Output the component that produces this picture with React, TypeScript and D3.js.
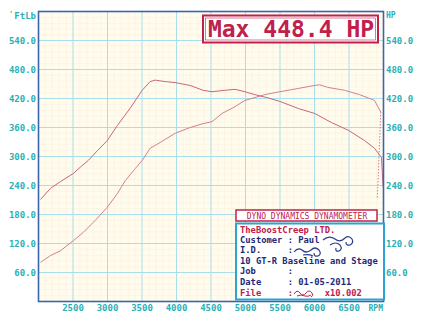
import React from "react";
import * as d3 from "d3";

const torqueRpm = [2029, 2173, 2318, 2506, 2607, 2723, 2853, 2997, 3142, 3329, 3503, 3618, 3691, 3835, 3980, 4197, 4385, 4514, 4702, 4847, 4991, 5136, 5309, 5497, 5772, 6003, 6249, 6494, 6725, 6870, 6971, 6995];
const torqueVal = [211, 234, 248, 265, 278, 292, 312, 333, 364, 400, 437, 455, 458, 455, 453, 447, 437, 434, 437, 439, 434, 428, 422, 414, 399, 389, 370, 354, 333, 317, 298, 236];

const hpRpm = [2029, 2173, 2318, 2506, 2650, 2824, 2997, 3142, 3257, 3402, 3503, 3618, 3763, 3980, 4197, 4385, 4514, 4659, 4847, 4991, 5136, 5280, 5497, 5772, 6003, 6075, 6191, 6436, 6653, 6870, 6960];
const hpVal = [81, 95, 105, 126, 143, 168, 195, 223, 250, 275, 292, 317, 329, 348, 360, 368, 372, 389, 403, 416, 422, 428, 434, 441, 447, 448.4, 443, 437, 428, 416, 392];

const rundownRpm = [6960, 6935, 6910];
const rundownVal = [392, 300, 215];

const xTicks = [2500, 3000, 3500, 4000, 4500, 5000, 5500, 6000, 6500];
const yTicks = [60, 120, 180, 240, 300, 360, 420, 480, 540];

const infoLines = [
  { text: "TheBoostCreep LTD.", color: "#c0204c" },
  { text: "Customer : Paul", color: "#1c2a78" },
  { text: "I.D.     :", color: "#1c2a78" },
  { text: "10 GT-R Baseline and Stage", color: "#1c2a78" },
  { text: "Job      :", color: "#1c2a78" },
  { text: "Date     : 01-05-2011", color: "#1c2a78" },
  { text: "File     :      x10.002", color: "#c0204c" },
];

const FONT = "'DejaVu Sans Mono', 'Liberation Mono', monospace";
const TEAL = "#2ab0b4";

export default function App() {
  const W = 425, H = 327;
  const x = d3.scaleLinear().domain([2000, 7000]).range([38.5, 383.5]);
  const y = d3.scaleLinear().domain([0, 600]).range([301.5, 11.5]);
  const line = d3.line<[number, number]>().x(d => x(d[0])).y(d => y(d[1])).curve(d3.curveLinear);

  const torque = torqueRpm.map((r, i) => [r, torqueVal[i]] as [number, number]);
  const hp = hpRpm.map((r, i) => [r, hpVal[i]] as [number, number]);
  const rundown = rundownRpm.map((r, i) => [r, rundownVal[i]] as [number, number]);

  const minorX = d3.range(2100, 7000, 100).filter(v => v % 500 !== 0);
  const minorY = d3.range(12, 600, 12).filter(v => v % 60 !== 0);
  const majorX = d3.range(2500, 7000, 500);
  const majorY = d3.range(60, 600, 60);

  return (
    <div style={{ position: "fixed", left: 0, top: 0 }}>
      <svg width={W} height={H} style={{ display: "block", background: "#ffffff" }}>
        <rect x={x(2000)} y={y(600)} width={x(7000) - x(2000)} height={y(0) - y(600)} fill="#fffcee" />
        {minorX.map(v => (
          <line key={"mx" + v} x1={x(v)} x2={x(v)} y1={y(0)} y2={y(600)} stroke="#f6e4cc" strokeWidth={0.6} strokeDasharray="1,1" />
        ))}
        {minorY.map(v => (
          <line key={"my" + v} y1={y(v)} y2={y(v)} x1={x(2000)} x2={x(7000)} stroke="#f6e4cc" strokeWidth={0.6} strokeDasharray="1,1" />
        ))}
        {majorX.map(v => (
          <line key={"Mx" + v} x1={x(v)} x2={x(v)} y1={y(0)} y2={y(600)} stroke="#a9dfea" strokeWidth={1} />
        ))}
        {majorY.map(v => (
          <line key={"My" + v} y1={y(v)} y2={y(v)} x1={x(2000)} x2={x(7000)} stroke="#a9dfea" strokeWidth={1} />
        ))}
        <path d={line(torque) || ""} fill="none" stroke="#c9657c" strokeWidth={1} />
        <path d={line(hp) || ""} fill="none" stroke="#d57f8e" strokeWidth={1} />
        <path d={line(rundown) || ""} fill="none" stroke="#d57f8e" strokeWidth={1} strokeDasharray="1.5,1.5" />

        <rect x={x(2000)} y={y(600)} width={x(7000) - x(2000)} height={y(0) - y(600)} fill="none" stroke="#3a64b0" strokeWidth={1.6} />

        {yTicks.map(v => (
          <text key={"yl" + v} x={36} y={y(v) + 3} textAnchor="end" fontFamily={FONT} fontWeight="bold" fontSize={9} fill={TEAL}>
            {v.toFixed(1)}
          </text>
        ))}
        {yTicks.map(v => (
          <text key={"yr" + v} x={386} y={y(v) + 3} textAnchor="start" fontFamily={FONT} fontWeight="bold" fontSize={9} fill={TEAL}>
            {v.toFixed(1)}
          </text>
        ))}
        <text x={36} y={19} textAnchor="end" fontFamily={FONT} fontWeight="bold" fontSize={9} fill={TEAL}>FtLb</text>
        <text x={9} y={16} fontFamily={FONT} fontSize={7} fill="#444">'</text>
        <text x={386} y={18} fontFamily={FONT} fontWeight="bold" fontSize={8} fill={TEAL}>HP</text>
        {xTicks.map(v => (
          <text key={"xl" + v} x={x(v)} y={311} textAnchor="middle" fontFamily={FONT} fontWeight="bold" fontSize={9} fill={TEAL}>
            {v}
          </text>
        ))}
        <text x={383} y={311} textAnchor="end" fontFamily={FONT} fontWeight="bold" fontSize={8} fill={TEAL}>RPM</text>

        {/* Max box */}
        <rect x={203} y={15.5} width={175} height={27} fill="#ffffff" stroke="#c0204c" strokeWidth={2} />
        <rect x={205.5} y={18} width={170} height={22} fill="none" stroke="#c0204c" strokeWidth={0.6} />
        <text x={291} y={37} textAnchor="middle" fontFamily={FONT} fontWeight="bold" fontSize={23} fill="#c0204c">Max 448.4 HP</text>

        {/* Dyno box */}
        <rect x={236} y={210} width={141} height={11} fill="#ffffff" stroke="#c0204c" strokeWidth={1.5} />
        <text x={307} y={218.5} textAnchor="middle" fontFamily={FONT} fontSize={8} fill="#c0204c">DYNO DYNAMICS DYNAMOMETER</text>

        {/* Info box */}
        <rect x={236} y={223.5} width={148} height={76} fill="#ffffff" stroke="#2aa4d2" strokeWidth={2} />
        {infoLines.map((l, i) => (
          <text key={"il" + i} x={240} y={232.5 + i * 10.4 + (i === 6 ? 1.5 : 0)} fontFamily={FONT} fontWeight="bold" fontSize={8.8} fill={l.color} xmlSpace="preserve" style={{ whiteSpace: "pre" }}>
            {l.text}
          </text>
        ))}
        {/* decorative scribbles */}
        <g fill="none" stroke="#2a3c8a" strokeWidth={1.2}>
          <path d="M323,240 q6,-5 12,-1 q5,4 10,-1 q4,-3 7,1 q2,4 -2,6 q-4,1 -4,-3" />
          <path d="M330,245 q6,-4 10,0 q3,4 -1,6 q-4,1 -3,-3" />
          <path d="M294,252 q4,-5 8,-2 q4,4 9,0 q4,-4 8,0 q3,4 -1,6 q-4,1 -4,-3 M303,255 q6,-1 10,1" />
        </g>
        <g fill="none" stroke="#c0204c" strokeWidth={1}>
          <path d="M294,294 q3,-5 6,-1 q3,4 6,0 q3,-4 6,0 q2,3 -1,4 M297,296 q4,-2 8,0 q3,1 6,-1" />
        </g>
      </svg>
    </div>
  );
}
